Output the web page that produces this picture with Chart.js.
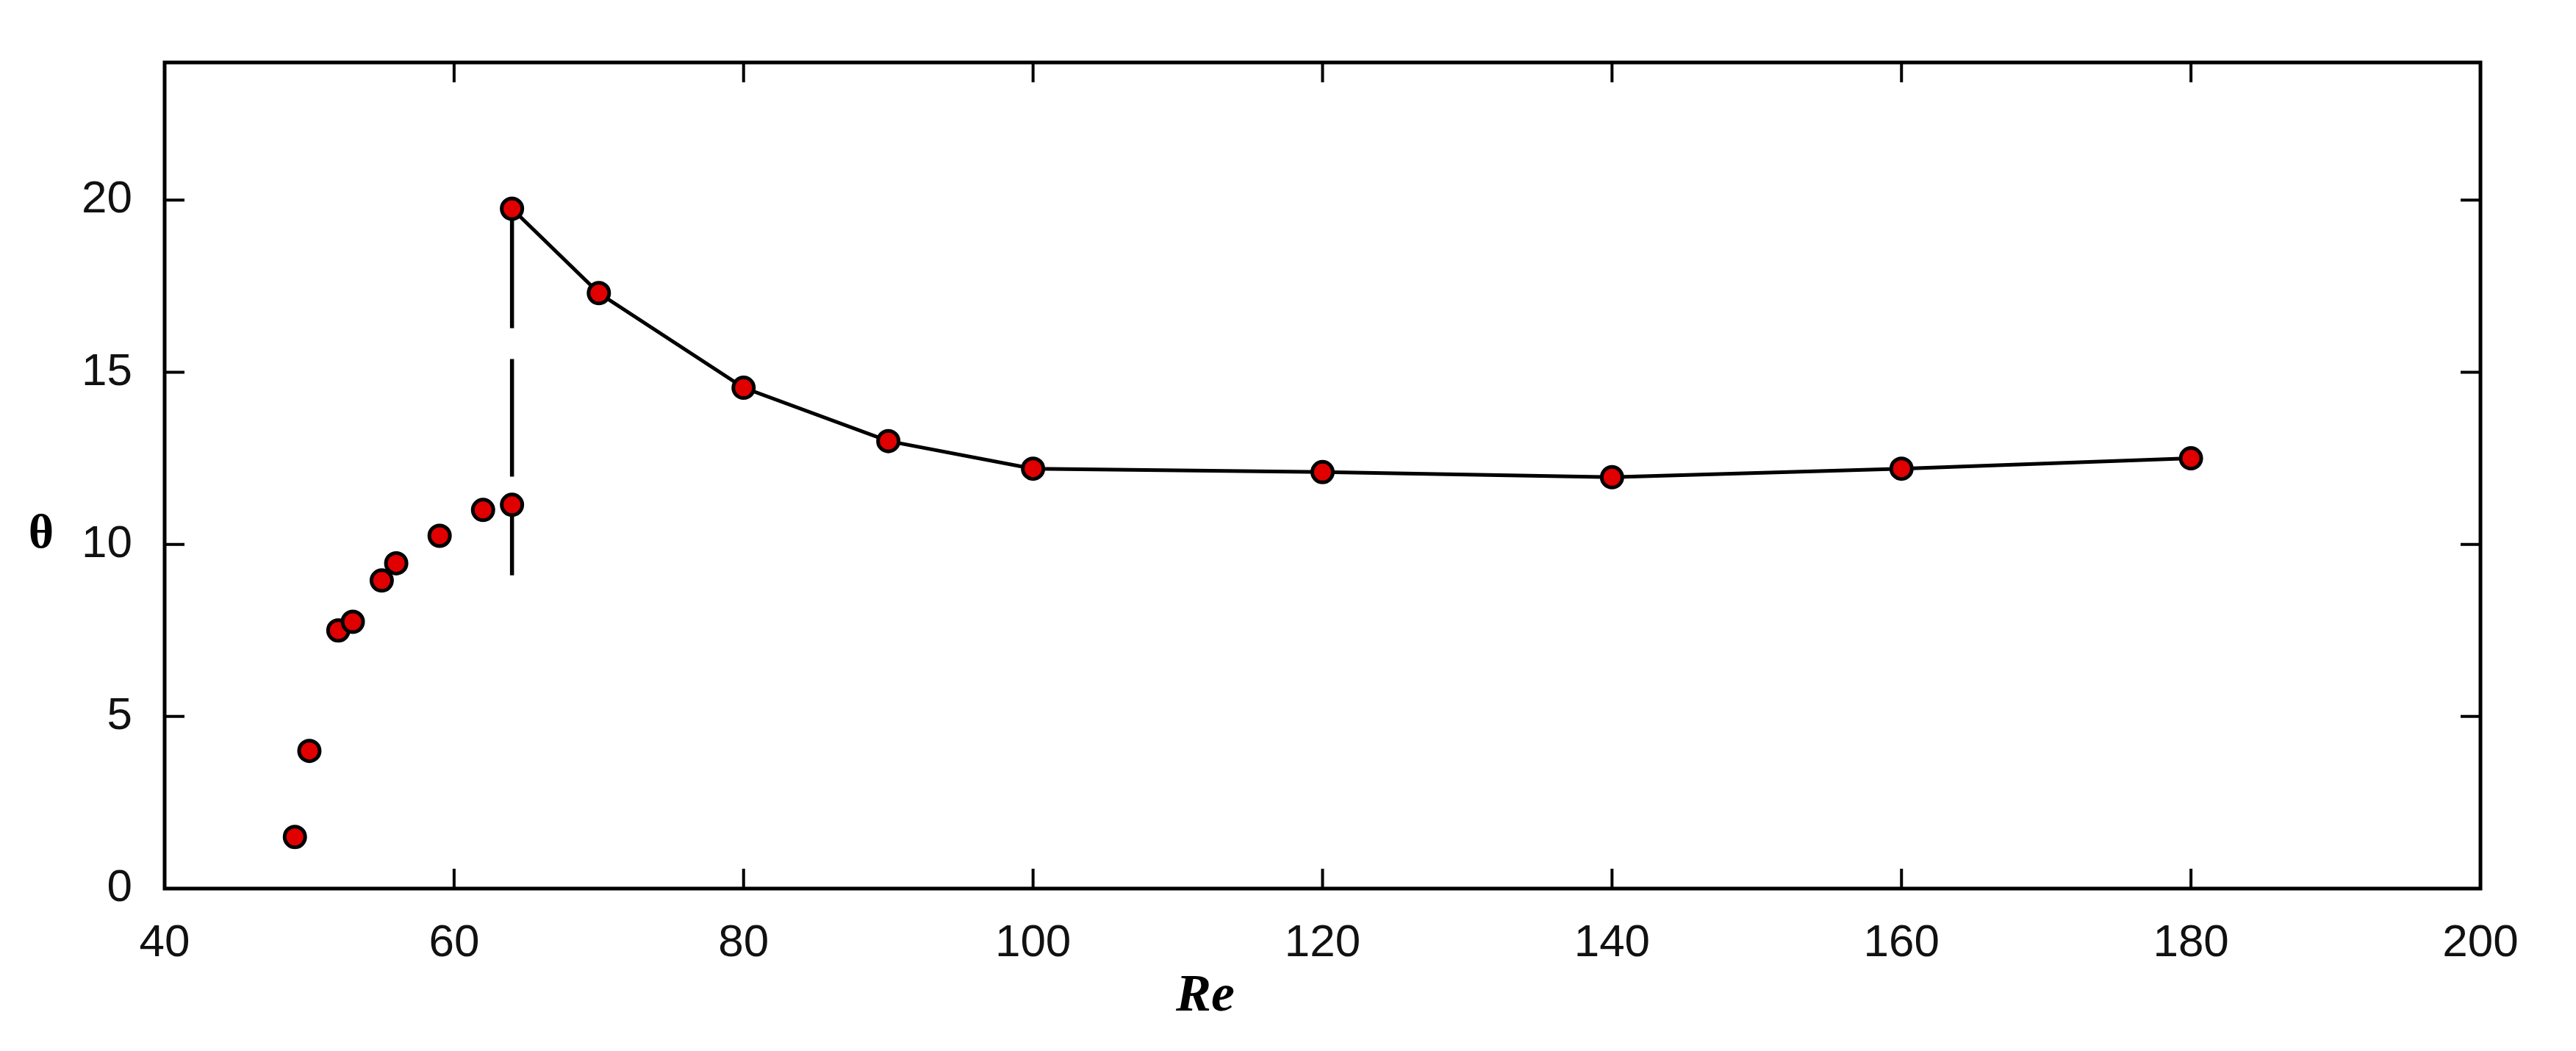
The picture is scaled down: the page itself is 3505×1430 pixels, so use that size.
<!DOCTYPE html>
<html><head><meta charset="utf-8">
<script src="https://cdn.jsdelivr.net/npm/chart.js@4/dist/chart.umd.min.js"></script>
<style>html,body{margin:0;padding:0;background:#fff}#c{display:block}</style>
</head><body>
<canvas id="c" width="3505" height="1430"></canvas>
<script>
const steadyRe = [49, 50, 52, 53, 55, 56, 59, 62, 64];
const steadyTheta = [1.5, 4.0, 7.5, 7.75, 8.95, 9.45, 10.25, 11.0, 11.15];
const branchRe = [64, 70, 80, 90, 100, 120, 140, 160, 180];
const branchTheta = [19.75, 17.3, 14.55, 13.0, 12.2, 12.1, 11.95, 12.2, 12.5];
const jumpRe = [64, 64];
const jumpTheta = [19.7, 9.1];
const xTicks = [40, 60, 80, 100, 120, 140, 160, 180, 200];
const yTicks = [0, 5, 10, 15, 20];

const pts = (xs, ys) => xs.map((x, i) => ({x, y: ys[i]}));
const marker = {pointRadius: 14, pointBackgroundColor: '#e00000', pointBorderColor: '#000', pointBorderWidth: 5};

const frame = {
  id: 'frame',
  afterDraw(chart) {
    const {ctx, chartArea: a, scales: {x, y}} = chart;
    ctx.save();
    ctx.strokeStyle = '#000'; ctx.lineWidth = 5;
    ctx.strokeRect(a.left, a.top, a.right - a.left, a.bottom - a.top);
    ctx.lineWidth = 4;
    const L = 27;
    xTicks.forEach(v => { const p = x.getPixelForValue(v);
      ctx.beginPath(); ctx.moveTo(p, a.bottom); ctx.lineTo(p, a.bottom - L);
      ctx.moveTo(p, a.top); ctx.lineTo(p, a.top + L); ctx.stroke(); });
    yTicks.forEach(v => { const p = y.getPixelForValue(v);
      ctx.beginPath(); ctx.moveTo(a.left, p); ctx.lineTo(a.left + L, p);
      ctx.moveTo(a.right, p); ctx.lineTo(a.right - L, p); ctx.stroke(); });
    ctx.fillStyle = '#000';
    ctx.font = 'bold 66px "Liberation Serif", serif';
    ctx.textAlign = 'center'; ctx.textBaseline = 'middle';
    ctx.fillText('θ', 56, 728);
    ctx.font = 'bold italic 72px "Liberation Serif", serif';
    ctx.fillText('Re', 1640, 1356);
    ctx.restore();
  }
};

new Chart(document.getElementById('c'), {
  type: 'scatter',
  data: { datasets: [
    {data: pts(jumpRe, jumpTheta), showLine: true, borderColor: '#000', borderWidth: 5.5, borderDash: [160, 42], pointRadius: 0, order: 3},
    {data: pts(branchRe, branchTheta), showLine: true, borderColor: '#000', borderWidth: 5, ...marker, order: 2},
    {data: pts(steadyRe, steadyTheta), showLine: false, ...marker, order: 1}
  ]},
  options: {
    responsive: false, animation: false, devicePixelRatio: 1,
    layout: {padding: {top: 85, right: 130, left: 0, bottom: 0}},
    plugins: {legend: {display: false}, tooltip: {enabled: false}},
    scales: {
      x: {type: 'linear', min: 40, max: 200,
        afterBuildTicks: s => { s.ticks = xTicks.map(v => ({value: v})); },
        afterFit: s => { s.height = 221; },
        grid: {display: false}, border: {display: false},
        ticks: {font: {family: '"Liberation Sans", Arial', size: 62}, color: '#111', padding: 30}},
      y: {type: 'linear', min: 0, max: 24,
        afterBuildTicks: s => { s.ticks = yTicks.map(v => ({value: v})); },
        afterFit: s => { s.width = 224; },
        grid: {display: false}, border: {display: false},
        ticks: {font: {family: '"Liberation Sans", Arial', size: 62}, color: '#111', padding: 36}}
    }
  },
  plugins: [frame]
});
</script>
</body></html>
